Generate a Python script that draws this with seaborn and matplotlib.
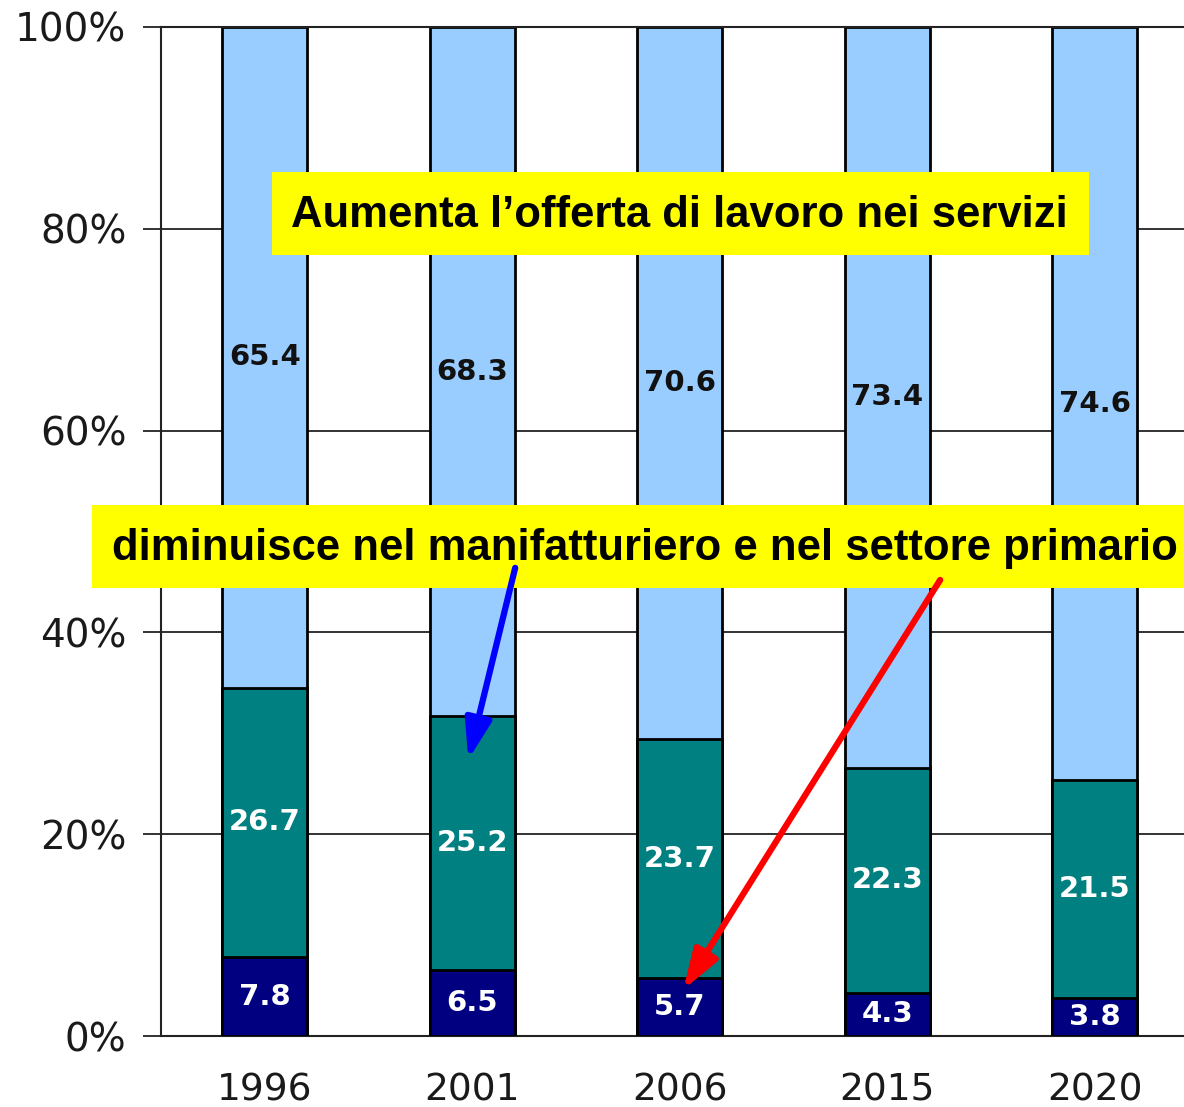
import numpy as np
import pandas as pd
import matplotlib
matplotlib.use('Agg')
import matplotlib.pyplot as plt
from matplotlib.patches import Rectangle
import seaborn as sns

# --- DATA ---
years = ['1996', '2001', '2006', '2015', '2020']
primario = [7.8, 6.5, 5.7, 4.3, 3.8]
manifattura = [26.7, 25.2, 23.7, 22.3, 21.5]
servizi = [65.4, 68.3, 70.6, 73.4, 74.6]
y_ticks = [0, 20, 40, 60, 80, 100]

note_top = 'Aumenta l’offerta di lavoro nei servizi'
note_mid = 'diminuisce nel manifatturiero e nel settore primario'

df = pd.DataFrame({'year': years, 'primario': primario,
                   'manifattura': manifattura, 'servizi': servizi})
tot = df[['primario', 'manifattura', 'servizi']].sum(axis=1)
# 100% stacked: cumulative shares
df['c1'] = df['primario'] / tot * 100
df['c2'] = (df['primario'] + df['manifattura']) / tot * 100
df['c3'] = 100.0

sns.set_style('white')
plt.rcParams['font.family'] = ['DejaVu Sans']

fig = plt.figure(figsize=(11.84, 11.07), dpi=100)
ax = fig.add_axes([161 / 1184, 71 / 1107, 1037.5 / 1184, 1009 / 1107])

w = 0.41
edge = dict(edgecolor='black', linewidth=2)
sns.barplot(data=df, x='year', y='c3', color='#99CCFF', saturation=1, width=w, ax=ax, zorder=2, **edge)
sns.barplot(data=df, x='year', y='c2', color='#008080', saturation=1, width=w, ax=ax, zorder=3, **edge)
sns.barplot(data=df, x='year', y='c1', color='#000080', saturation=1, width=w, ax=ax, zorder=4, **edge)

# segment labels
lab = dict(ha='center', va='center', fontsize=21, fontweight='bold', zorder=6)
for i, r in df.iterrows():
    ax.text(i, r['c1'] / 2, f"{r['primario']:.1f}", color='white', **lab)
    ax.text(i, (r['c1'] + r['c2']) / 2, f"{r['manifattura']:.1f}", color='white', **lab)
    ax.text(i, (r['c2'] + 100) / 2, f"{r['servizi']:.1f}", color='#111111', **lab)

ax.set_xlim(-0.5, len(years) - 0.5)
ax.set_ylim(0, 100)
ax.set_yticks(y_ticks)
ax.set_yticklabels([f'{t}%' for t in y_ticks])
ax.set_xlabel('')
ax.set_ylabel('')
ax.set_axisbelow(True)
ax.yaxis.grid(True, color='#222222', linewidth=1.3)
ax.xaxis.grid(False)

ax.set_xticks(np.arange(-0.5, len(years), 1.0), minor=True)
ax.tick_params(axis='x', which='major', length=0, pad=26, labelsize=27, labelcolor='#1a1a1a')
ax.tick_params(axis='x', which='minor', length=10, width=1.5, color='#222222', direction='out')
ax.tick_params(axis='y', length=13, width=1.3, color='#222222', pad=12, labelsize=28,
               labelcolor='#1a1a1a', left=True)

for s in ['left', 'bottom', 'top']:
    ax.spines[s].set_color('#222222')
    ax.spines[s].set_linewidth(1.5)
ax.spines['right'].set_visible(False)

# annotation boxes
ax.add_patch(Rectangle((0.036, 77.4), 3.934, 8.2, fc='#FFFF00', ec='none', zorder=7))
ax.add_patch(Rectangle((-0.831, 44.4), 5.5, 8.2, fc='#FFFF00', ec='none', zorder=7,
                       clip_on=False))
note = dict(ha='center', va='center', fontsize=31.4, fontweight='bold',
            family='Liberation Sans', color='black', zorder=8, clip_on=False)
ax.text(2.0, 81.3, note_top, **note)
ax.text(1.83, 48.3, note_mid, **note)

# arrows
arrow = '-|>,head_length=2.4,head_width=0.8'
ax.annotate('', xy=(0.981, 27.4), xytext=(1.207, 46.4), zorder=9,
            arrowprops=dict(arrowstyle=arrow, color='#0000FF', lw=4.5,
                            shrinkA=0, shrinkB=0))
ax.annotate('', xy=(2.017, 4.6), xytext=(3.255, 45.2), zorder=9,
            arrowprops=dict(arrowstyle=arrow, color='#FF0000', lw=4.5,
                            shrinkA=0, shrinkB=0))

fig.savefig('out.png', dpi=100)
